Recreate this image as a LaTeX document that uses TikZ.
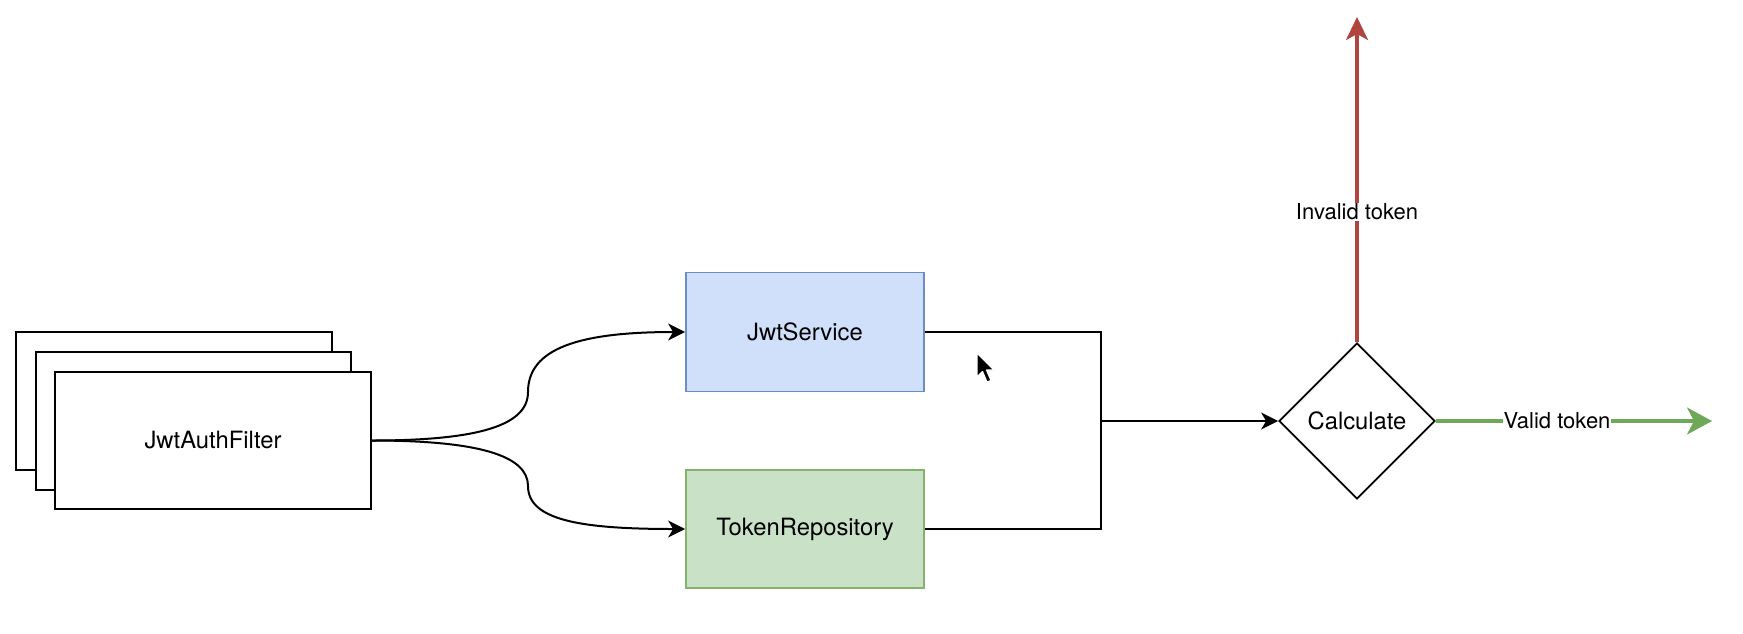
\documentclass[tikz,border=0pt]{standalone}
\usepackage{fontspec}
\setmainfont{TeX Gyre Heros}
\usetikzlibrary{arrows.meta,shapes.geometric}
\definecolor{jsfill}{HTML}{D0E0FA}
\definecolor{jsdraw}{HTML}{6C8EBF}
\definecolor{trfill}{HTML}{C9E1C6}
\definecolor{trdraw}{HTML}{82B366}
\definecolor{redline}{HTML}{B0453F}
\definecolor{greenline}{HTML}{6EA858}
\tikzset{
  txt/.style={font=\fontsize{23.8}{28}\selectfont},
  plainbox/.style={draw=black, fill=white, line width=1.8pt, inner sep=0pt, txt},
  jsbox/.style={draw=jsdraw, fill=jsfill, line width=1.8pt, inner sep=0pt, minimum width=238pt, minimum height=119pt, txt},
  trbox/.style={draw=trdraw, fill=trfill, line width=1.8pt, inner sep=0pt, minimum width=238pt, minimum height=118pt, txt},
  decision/.style={diamond, shape aspect=1, draw=black, fill=white, line width=1.8pt, inner sep=0pt, minimum width=156pt, minimum height=156pt, txt},
  conn/.style={draw=black, line width=2pt},
  blackarrow/.style={conn, -{Stealth[length=17pt, width=17pt, inset=5pt]}},
  redarrow/.style={draw=redline, line width=3.2pt, -{Stealth[length=23pt, width=22pt, inset=6pt]}},
  greenarrow/.style={draw=greenline, line width=3.2pt, -{Stealth[length=25pt, width=27pt, inset=7pt]}},
  edgelabel/.style={fill=white, inner sep=1pt, font=\fontsize{22}{26}\selectfont}
}
\begin{document}
\begin{tikzpicture}[x=1pt, y=-1pt]
\useasboundingbox (0,0) rectangle (1743,633);
% stacked JwtAuthFilter boxes
\node[plainbox, minimum width=316pt, minimum height=138pt] (back) at (174,401) {};
\node[plainbox, minimum width=315pt, minimum height=138pt] (mid) at (193.5,421) {};
\node[plainbox, minimum width=316pt, minimum height=137pt] (filter) at (213,440.5) {JwtAuthFilter};
% services
\node[jsbox] (js) at (805,332) {JwtService};
\node[trbox] (tr) at (805,529) {TokenRepository};
% decision
\node[decision] (calc) at (1357,421) {Calculate};
% coordinates
\coordinate (junction) at (1101,421);
\coordinate (top) at (1357,17);
\coordinate (right) at (1712,421);
% curved arrows from filter
\draw[blackarrow] (filter.east) .. controls (480,440.5) and (528,425) .. (528,392)
  .. controls (528,348) and (580,332) .. (js.west);
\draw[blackarrow] (filter.east) .. controls (480,440.5) and (528,456) .. (528,486)
  .. controls (528,520) and (580,529) .. (tr.west);
% merging lines
\draw[conn] (js.east) -| (junction);
\draw[conn] (tr.east) -| (junction);
\draw[blackarrow] (junction) -- (calc.west);
% outcomes
\draw[redarrow] (calc.north) -- (top);
\node[edgelabel] (invalid) at (1357,212) {Invalid token};
\draw[greenarrow] (calc.east) -- (right);
\node[edgelabel] (valid) at (1557,421) {Valid token};
% mouse cursor
\filldraw[fill=black, draw=white, line width=1.2pt, line join=round]
  (977,353) -- (977,377) -- (982.5,371.5) -- (987,382) -- (991,380.5) -- (986.5,370) -- (994,370) -- cycle;
\end{tikzpicture}
\end{document}
